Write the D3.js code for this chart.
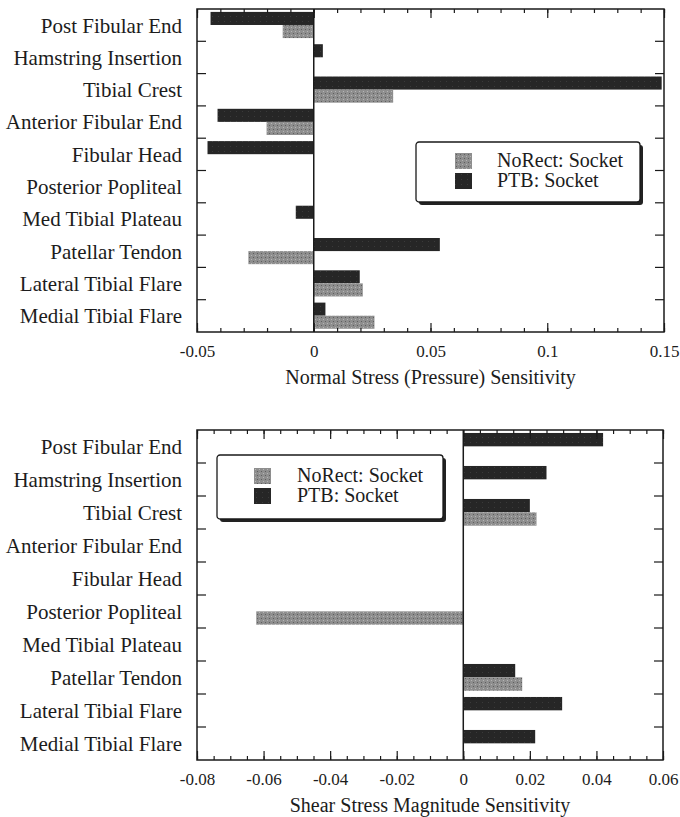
<!DOCTYPE html>
<html lang="en">
<head>
<meta charset="UTF-8">
<title>Socket sensitivity bars</title>
<style>
  body { margin: 0; background: #fff; }
  svg text { font-family: "Liberation Serif", "DejaVu Serif", serif; fill: #1c1c1c; }
</style>
</head>
<body>
<div id="wrapper"></div>
<script src="https://d3js.org/d3.v7.min.js"></script>
<script>
// categories, top to bottom
const categories = [
  "Post Fibular End", "Hamstring Insertion", "Tibial Crest", "Anterior Fibular End",
  "Fibular Head", "Posterior Popliteal", "Med Tibial Plateau", "Patellar Tendon",
  "Lateral Tibial Flare", "Medial Tibial Flare"
];
const seriesKeys = ["PTB", "NoRect"];
const legendLabels = ["NoRect: Socket", "PTB: Socket"];

// normal stress (pressure) sensitivity
const normalPTB    = [-0.0442, 0.0039, 0.149, -0.0412, -0.0455, 0, -0.0077, 0.054, 0.0197, 0.005];
const normalNoRect = [-0.0133, 0, 0.034, -0.0202, 0, 0, 0, -0.028, 0.021, 0.026];
const normalTicks  = [-0.05, 0, 0.05, 0.1, 0.15];

// shear stress magnitude sensitivity
const shearPTB    = [0.042, 0.025, 0.020, 0, 0, 0, 0, 0.0156, 0.0297, 0.0216];
const shearNoRect = [0, 0, 0.022, 0, 0, -0.0622, 0, 0.0177, 0, 0];
const shearTicks  = [-0.08, -0.06, -0.04, -0.02, 0, 0.02, 0.04, 0.06];

const width = 680, height = 817;

const svg = d3.select("#wrapper").append("svg")
  .attr("width", width).attr("height", height);

// fill textures, the scan looks stippled
const defs = svg.append("defs");
const grayPat = defs.append("pattern").attr("id", "grayDots")
  .attr("width", 4).attr("height", 4).attr("patternUnits", "userSpaceOnUse");
grayPat.append("rect").attr("width", 4).attr("height", 4).attr("fill", "#8e8e8e");
grayPat.append("rect").attr("x", 0).attr("y", 0).attr("width", 1).attr("height", 1).attr("fill", "#5e5e5e");
grayPat.append("rect").attr("x", 2).attr("y", 2).attr("width", 1).attr("height", 1).attr("fill", "#b5b5b5");
const darkPat = defs.append("pattern").attr("id", "darkFill")
  .attr("width", 6).attr("height", 5).attr("patternUnits", "userSpaceOnUse");
darkPat.append("rect").attr("width", 6).attr("height", 5).attr("fill", "#262626");
darkPat.append("rect").attr("x", 3).attr("y", 2).attr("width", 1).attr("height", 1).attr("fill", "#3a3a3a");

const fills = { PTB: "url(#darkFill)", NoRect: "url(#grayDots)" };

function drawPanel(cfg) {
  const dims = cfg.dims;
  const g = svg.append("g")
    .attr("transform", `translate(${dims.left},${dims.top})`);

  const xScale = d3.scaleLinear().domain(cfg.domain).range([0, dims.w]);
  const yScale = d3.scaleBand().domain(categories).range([0, dims.h]);
  const subScale = d3.scaleBand().domain(seriesKeys)
    .range([yScale.bandwidth() * 0.09, yScale.bandwidth() * 0.9]);

  const rows = categories.map((c, i) => ({ cat: c, PTB: cfg.ptb[i], NoRect: cfg.norect[i] }));

  // bars
  const bars = [];
  rows.forEach(r => seriesKeys.forEach(k => { if (r[k] !== 0) bars.push({ cat: r.cat, key: k, v: r[k] }); }));
  g.selectAll("rect.bar").data(bars).join("rect")
    .attr("class", "bar")
    .attr("x", d => xScale(Math.min(0, d.v)))
    .attr("width", d => Math.abs(xScale(d.v) - xScale(0)))
    .attr("y", d => yScale(d.cat) + subScale(d.key))
    .attr("height", subScale.bandwidth())
    .attr("fill", d => fills[d.key]);

  // zero line
  g.append("line")
    .attr("x1", xScale(0)).attr("x2", xScale(0))
    .attr("y1", 0).attr("y2", dims.h)
    .attr("stroke", "#1a1a1a").attr("stroke-width", 1.5);

  // minor + major ticks, top and bottom, pointing in
  const minor = d3.range(cfg.domain[0], cfg.domain[1] + 1e-9, cfg.minorStep);
  const fmt = d => String(+d.toFixed(3));
  const tickStyle = sel => {
    sel.select(".domain").remove();
    sel.selectAll("line").attr("stroke", "#1a1a1a").attr("stroke-width", 1.2);
  };
  g.append("g").attr("transform", `translate(0,${dims.h})`)
    .call(d3.axisBottom(xScale).tickValues(minor).tickSize(-4).tickFormat(""))
    .call(tickStyle);
  g.append("g")
    .call(d3.axisTop(xScale).tickValues(minor).tickSize(-4).tickFormat(""))
    .call(tickStyle);
  g.append("g")
    .call(d3.axisTop(xScale).tickValues(cfg.ticks).tickSize(-9).tickFormat(""))
    .call(tickStyle);
  const xAxis = g.append("g").attr("transform", `translate(0,${dims.h})`)
    .call(d3.axisBottom(xScale).tickValues(cfg.ticks).tickSize(-9).tickPadding(13).tickFormat(fmt))
    .call(tickStyle);
  xAxis.selectAll("text").attr("font-size", 17).attr("fill", "#1c1c1c");

  // category boundary ticks, left and right
  const bounds = categories.slice(1).map(c => yScale(c));
  g.selectAll("line.ytick").data(bounds.flatMap(y => [[0, 9, y], [dims.w, dims.w - 9, y]])).join("line")
    .attr("class", "ytick")
    .attr("x1", d => d[0]).attr("x2", d => d[1])
    .attr("y1", d => d[2]).attr("y2", d => d[2])
    .attr("stroke", "#1a1a1a").attr("stroke-width", 1.2);

  // frame
  g.append("rect").attr("width", dims.w).attr("height", dims.h)
    .attr("fill", "none").attr("stroke", "#1a1a1a").attr("stroke-width", 1.5);

  // category labels
  g.selectAll("text.cat").data(categories).join("text")
    .attr("class", "cat")
    .attr("x", -15)
    .attr("y", d => yScale(d) + yScale.bandwidth() / 2)
    .attr("dy", "0.35em")
    .attr("text-anchor", "end")
    .attr("font-size", 21)
    .text(d => d);

  // axis title
  g.append("text")
    .attr("x", xScale(0.5 * (cfg.domain[0] + cfg.domain[1])))
    .attr("y", dims.h + 52)
    .attr("text-anchor", "middle")
    .attr("font-size", 20)
    .text(cfg.title);

  // legend with drop shadow
  const L = cfg.legend;
  const leg = g.append("g").attr("transform", `translate(${L.x - dims.left},${L.y - dims.top})`);
  leg.append("rect").attr("x", 3).attr("y", 3).attr("width", L.w).attr("height", L.h)
    .attr("rx", 3).attr("fill", "#222");
  leg.append("rect").attr("width", L.w).attr("height", L.h)
    .attr("rx", 3).attr("fill", "#fff").attr("stroke", "#1a1a1a").attr("stroke-width", 1.3);
  const legKeys = ["NoRect", "PTB"];
  legKeys.forEach((k, i) => {
    leg.append("rect")
      .attr("x", L.sx).attr("y", L.sy + i * 20)
      .attr("width", 17).attr("height", 16)
      .attr("fill", fills[k]);
    leg.append("text")
      .attr("x", L.tx).attr("y", L.sy + i * 20 + 14)
      .attr("font-size", 20)
      .text(legendLabels[i]);
  });
}

drawPanel({
  dims: { left: 197, top: 9, w: 467, h: 323 },
  domain: [-0.05, 0.15], ticks: normalTicks, minorStep: 0.01,
  ptb: normalPTB, norect: normalNoRect,
  title: "Normal Stress (Pressure) Sensitivity",
  legend: { x: 416, y: 142, w: 224, h: 60, sx: 39, sy: 11, tx: 81 }
});

drawPanel({
  dims: { left: 197, top: 430, w: 466, h: 330 },
  domain: [-0.08, 0.06], ticks: shearTicks, minorStep: 0.005,
  ptb: shearPTB, norect: shearNoRect,
  title: "Shear Stress Magnitude Sensitivity",
  legend: { x: 217, y: 455, w: 226, h: 64, sx: 37, sy: 13, tx: 80 }
});
</script>
</body>
</html>
